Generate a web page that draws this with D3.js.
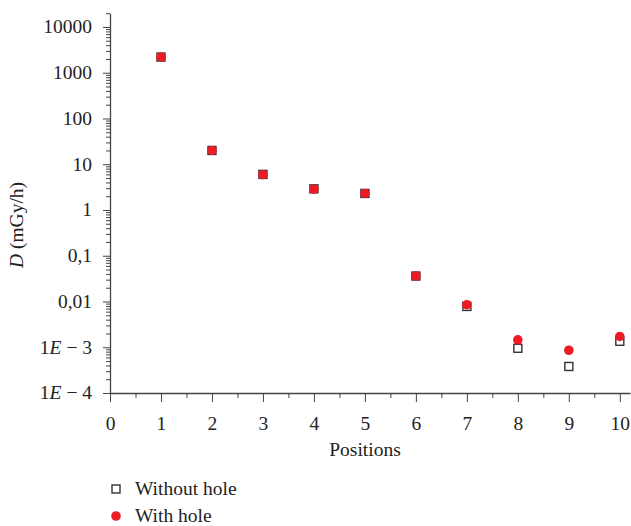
<!DOCTYPE html>
<html>
  <head>
    <script src="https://d3js.org/d3.v7.min.js"></script>
    <style>
      body { margin: 0; background: #fff; }
      .axis path, .axis line { stroke: #444; }
    </style>
  </head>
  <body>
    <svg width="631" height="526"></svg>
    <script>
      // data
      var positions = [1, 2, 3, 4, 5, 6, 7, 8, 9, 10];
      var withoutHole = [2200, 20, 6, 2.9, 2.3, 0.036, 0.0078, 0.00095, 0.00038, 0.00135];
      var withHole = [2200, 20, 5.9, 2.85, 2.3, 0.036, 0.0085, 0.00145, 0.00086, 0.00172];

      var yTickValues = [10000, 1000, 100, 10, 1, 0.1, 0.01, 0.001, 0.0001];
      var yTickLabels = ["10000", "1000", "100", "10", "1", "0,1", "0,01", "1E \u2212 3", "1E \u2212 4"];
      var xTickValues = [0, 1, 2, 3, 4, 5, 6, 7, 8, 9, 10];

      var FONT = "'Liberation Serif', 'Times New Roman', serif";
      var FS = "19.5px";

      var svg = d3.select("svg");

      var xScale = d3.scaleLinear().domain([0, 10.2]).range([110, 630]);
      var yScale = d3.scaleLog().domain([1e-4, 2e4]).range([393, 13.2]);

      // minor ticks
      var yMinor = [];
      for (var e = -4; e <= 4; e++) {
        for (var m = 2; m <= 9; m++) {
          var v = m * Math.pow(10, e);
          if (v <= 2e4) yMinor.push(v);
        }
      }
      var xMinor = [0.5, 1.5, 2.5, 3.5, 4.5, 5.5, 6.5, 7.5, 8.5, 9.5];

      svg.append("g").attr("class", "axis")
        .attr("transform", "translate(110,0)")
        .call(d3.axisLeft(yScale).tickValues(yMinor).tickSize(4).tickFormat(""))
        .select("path").remove();

      var yAxisG = svg.append("g").attr("class", "axis")
        .attr("transform", "translate(110,0)")
        .call(d3.axisLeft(yScale).tickValues(yTickValues).tickSizeInner(7).tickSizeOuter(0).tickFormat(""));
      yAxisG.select("path").attr("stroke-width", 1.3);

      svg.append("g").attr("class", "axis")
        .attr("transform", "translate(0,393)")
        .call(d3.axisBottom(xScale).tickValues(xMinor).tickSize(5).tickFormat(""))
        .select("path").remove();

      var xAxisG = svg.append("g").attr("class", "axis")
        .attr("transform", "translate(0,393)")
        .call(d3.axisBottom(xScale).tickValues(xTickValues).tickSizeInner(9).tickSizeOuter(0).tickPadding(14));
      xAxisG.select("path").attr("stroke-width", 1.3);
      xAxisG.selectAll("text").attr("fill", "#222");

      // y tick labels with italic E
      yTickValues.forEach(function (v, i) {
        var t = svg.append("text")
          .attr("x", 92)
          .attr("y", yScale(v))
          .attr("dy", "0.33em")
          .attr("text-anchor", "end");
        var lab = yTickLabels[i];
        if (lab.indexOf("E") >= 0) {
          var parts = lab.split("E");
          t.append("tspan").text(parts[0]);
          t.append("tspan").style("font-style", "italic").text("E");
          t.append("tspan").text(parts[1]);
        } else {
          t.text(lab);
        }
      });

      // axis titles
      svg.append("text")
        .attr("x", 365).attr("y", 456)
        .attr("text-anchor", "middle")
        .text("Positions");

      var yTitle = svg.append("text")
        .attr("transform", "translate(23,225) rotate(-90)")
        .attr("text-anchor", "middle");
      yTitle.append("tspan").style("font-style", "italic").text("D");
      yTitle.append("tspan").text(" (mGy/h)");

      // markers
      svg.selectAll("rect.without")
        .data(positions)
        .enter().append("rect")
        .attr("class", "without")
        .attr("x", function (d) { return xScale(d) - 4; })
        .attr("y", function (d, i) { return yScale(withoutHole[i]) - 4; })
        .attr("width", 8).attr("height", 8)
        .attr("fill", "#fff")
        .attr("stroke", "#333")
        .attr("stroke-width", 1.4);

      svg.selectAll("circle.with")
        .data(positions)
        .enter().append("circle")
        .attr("class", "with")
        .attr("cx", function (d) { return xScale(d); })
        .attr("cy", function (d, i) { return yScale(withHole[i]); })
        .attr("r", 4.8)
        .attr("fill", "#ed1c24");

      // legend
      var legend = svg.append("g");
      legend.append("rect")
        .attr("x", 112).attr("y", 485).attr("width", 8).attr("height", 8)
        .attr("fill", "#fff").attr("stroke", "#333").attr("stroke-width", 1.4);
      legend.append("text").attr("x", 135).attr("y", 495).text("Without hole");
      legend.append("circle")
        .attr("cx", 116).attr("cy", 516).attr("r", 4.8).attr("fill", "#ed1c24");
      legend.append("text").attr("x", 135).attr("y", 522).text("With hole");

      // one serif font for every text
      svg.selectAll("text")
        .style("font-family", FONT)
        .style("font-size", FS)
        .style("fill", "#222");
    </script>
  </body>
</html>
